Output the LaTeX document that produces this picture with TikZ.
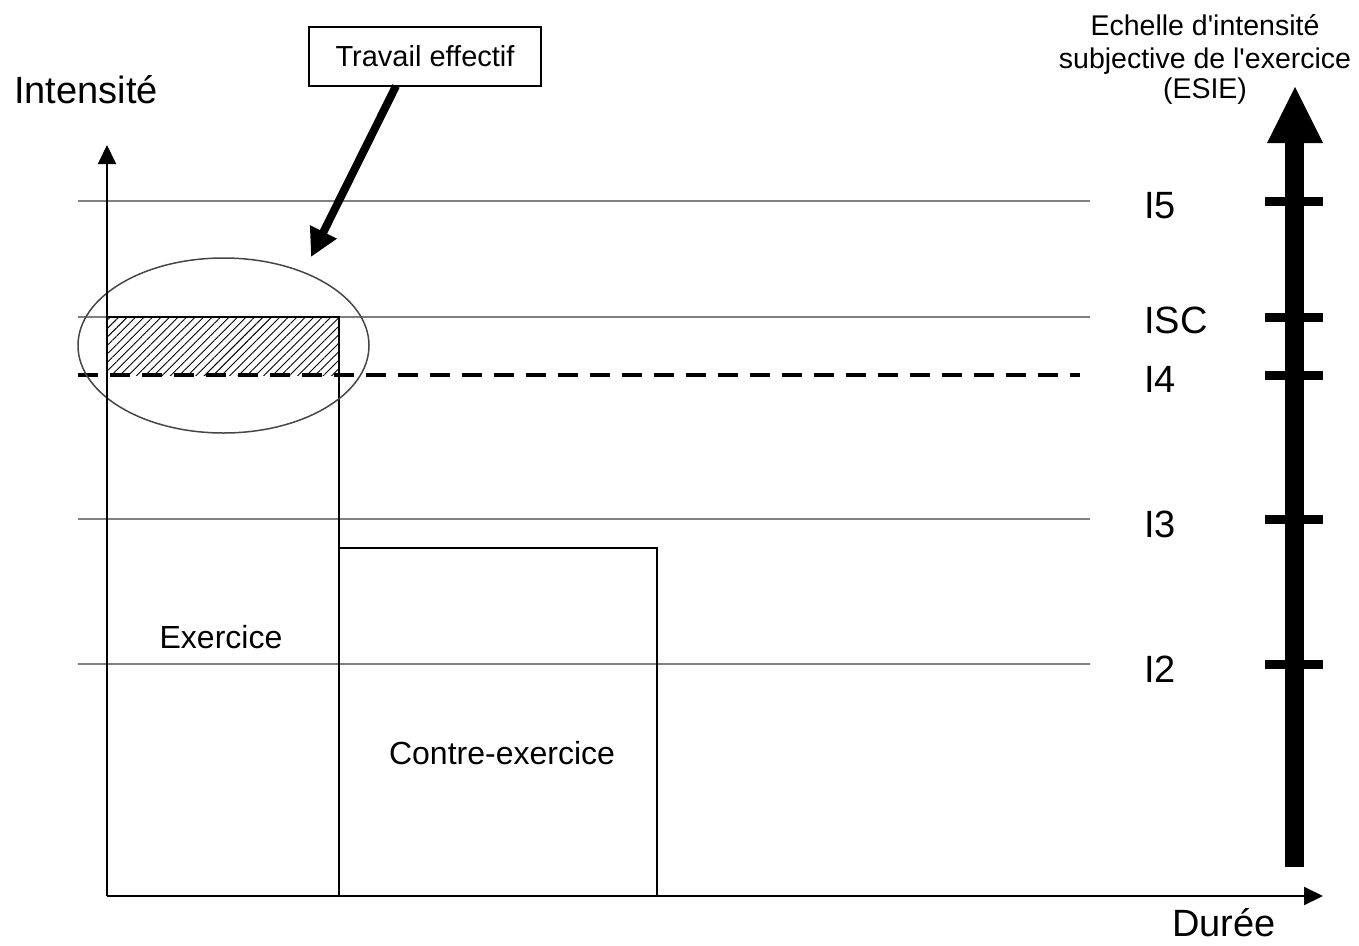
\documentclass[tikz,border=0pt]{standalone}
\usepackage{fontspec}
\setmainfont{Liberation Sans}
\newfontfamily\plainquote{Liberation Sans}
\usetikzlibrary{arrows.meta,patterns.meta}
\definecolor{gline}{RGB}{128,128,128}
\definecolor{eline}{RGB}{70,70,70}
\newcommand{\sq}{{\plainquote '}}
\begin{document}
\begin{tikzpicture}[x=1pt,y=-1pt,
  big/.style={font=\fontsize{38}{44}\selectfont, inner sep=0pt},
  mid/.style={font=\fontsize{28.5}{34}\selectfont, inner sep=0pt},
  small/.style={font=\fontsize{32}{38}\selectfont, inner sep=0pt},
  gridline/.style={draw=gline, line width=1.5pt},
  boxline/.style={draw=black, line width=2pt},
  axis/.style={draw=black, line width=2pt, -{Triangle[length=19pt,width=18pt]}},
  tickmark/.style={draw=black, line width=9pt},
  callout/.style={draw=black, line width=8pt, -{Triangle[length=28pt,width=28pt]}}]
\useasboundingbox[fill=white] (0,0) rectangle (1359,945);

% grid lines
\draw[gridline] (78,201) -- (1090,201);
\draw[gridline] (78,317) -- (1090,317);
\draw[gridline] (78,519) -- (1090,519);
\draw[gridline] (78,664) -- (1090,664);
\draw[line width=4.5pt, dash pattern=on 20pt off 12pt] (78,375) -- (1080,375);

% hatched zone
\fill[pattern={Lines[angle=45,distance=6pt,line width=0.9pt]}] (107,317) rectangle (339,375);

% rectangles
\draw[boxline] (107,896) -- (107,317) -- (339,317) -- (339,896);
\draw[boxline] (339,548) -- (657,548) -- (657,896);

% ellipse
\draw[eline, line width=1.5pt] (223.5,345.5) ellipse [x radius=145.5, y radius=87.5];

% axes
\coordinate (O) at (107,896);
\coordinate (ytip) at (107,145);
\coordinate (xtip) at (1323,896);
\draw[axis] (O) -- (ytip);
\draw[axis] (O) -- (xtip);

% axis labels
\node[big, anchor=base west] (int) at (14,103) {Intensité};
\node[big, anchor=base west] (dur) at (1172,936) {Durée};

% callout box and arrow
\node[draw=black, line width=1.5pt, minimum width=232, minimum height=59, inner sep=0pt,
      font=\fontsize{29}{34}\selectfont] (tbox) at (425,56.5) {Travail effectif};
\coordinate (ts) at (396,86);
\coordinate (te) at (311,257);
\draw[callout] (ts) -- (te);

% zone labels
\node[small] (ex) at (221,637) {Exercice};
\node[small] (cex) at (502,753) {Contre-exercice};

% ESIE scale
\fill (1285,867) rectangle (1304,140);
\fill (1267,143) -- (1295,87) -- (1323,143) -- cycle;
\foreach \yy in {201,317,375,519,664} \draw[tickmark] (1265,\yy) -- (1323,\yy);

\node[mid, anchor=base] (t1) at (1205,35) {Echelle d\sq intensité};
\node[mid, anchor=base] (t2) at (1205,68) {subjective de l\sq exercice};
\node[mid, anchor=base] (t3) at (1205,98) {(ESIE)};

% level labels
\node[big, anchor=base west] (l5) at (1144,218) {I5};
\node[big, anchor=base west] (lsc) at (1144,333) {ISC};
\node[big, anchor=base west] (l4) at (1144,392) {I4};
\node[big, anchor=base west] (l3) at (1144,537) {I3};
\node[big, anchor=base west] (l2) at (1144,682) {I2};
\end{tikzpicture}
\end{document}
